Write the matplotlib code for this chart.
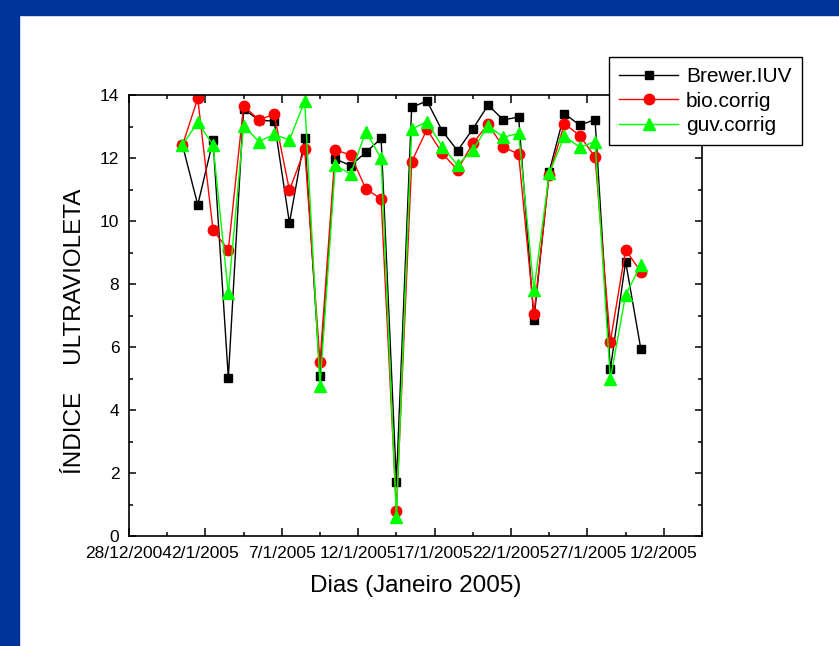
#!/usr/bin/env python3
"""UV index, Brewer vs corrected biometer / GUV, January 2005."""

from datetime import datetime, timedelta

import matplotlib
matplotlib.use("Agg")
import matplotlib.pyplot as plt
from matplotlib.patches import Rectangle
from matplotlib.ticker import MultipleLocator

plt.rcParams['font.family'] = ['Liberation Sans', 'DejaVu Sans']

# daily values, 31/12/2004 .. 30/1/2005 (measured around noon)
first_day = datetime(2004, 12, 31, 12)
brewer_iuv = [12.41, 10.51, 12.56, 5.02, 13.56, 13.20, 13.17, 9.94, 12.65, 5.08,
              11.97, 11.76, 12.18, 12.62, 1.70, 13.61, 13.81, 12.86, 12.23, 12.92,
              13.68, 13.21, 13.30, 6.86, 11.57, 13.41, 13.04, 13.22, 5.29, 8.71,
              5.93]
bio_corrig = [12.41, 13.89, 9.71, 9.08, 13.66, 13.21, 13.39, 10.98, 12.27, 5.53,
              12.25, 12.10, 11.02, 10.70, 0.80, 11.88, 12.91, 12.15, 11.62, 12.47,
              13.07, 12.35, 12.12, 7.05, 11.46, 13.09, 12.71, 12.03, 6.17, 9.08,
              8.39]
guv_corrig = [12.42, 13.13, 12.41, 7.70, 13.03, 12.52, 12.75, 12.57, 13.81, 4.76,
              11.78, 11.48, 12.84, 11.99, 0.59, 12.92, 13.15, 12.36, 11.78, 12.25,
              13.03, 12.66, 12.78, 7.81, 11.51, 12.70, 12.34, 12.52, 4.98, 7.65,
              8.60]
days = [first_day + timedelta(days=i) for i in range(len(brewer_iuv))]

tick_dates = [datetime(2004, 12, 28) + timedelta(days=5 * k) for k in range(8)]
tick_labels = ['28/12/2004', '2/1/2005', '7/1/2005', '12/1/2005',
               '17/1/2005', '22/1/2005', '27/1/2005', '1/2/2005']

fig = plt.figure(figsize=(8.39, 6.46), dpi=100)
W, H = 839, 646

# dark blue slide frame, left and top
blue = '#003399'
fig.patches.append(Rectangle((0, 0), 19 / W, 1, transform=fig.transFigure,
                             color=blue, zorder=0))
fig.patches.append(Rectangle((0, 1 - 15 / H), 1, 15 / H, transform=fig.transFigure,
                             color=blue, zorder=0))

ax = fig.add_axes([129 / W, 110 / H, (702 - 129) / W, (536 - 95) / H])

ax.plot(days, brewer_iuv, color='black', lw=1, marker='s', ms=6,
        mec='black', mfc='black', label='Brewer.IUV')
ax.plot(days, bio_corrig, color='red', lw=1, marker='o', ms=7.5,
        mec='red', mfc='red', label='bio.corrig')
ax.plot(days, guv_corrig, color='#00ff00', lw=1, marker='^', ms=8,
        mec='#00ff00', mfc='#00ff00', label='guv.corrig')

ax.set_xlim(datetime(2004, 12, 28), datetime(2005, 2, 3, 12))
ax.set_ylim(0, 14)
ax.set_xticks(tick_dates)
ax.set_xticklabels(tick_labels)
minor = [datetime(2004, 12, 30, 12) + timedelta(days=5 * k) for k in range(8)]
ax.set_xticks(minor, minor=True)
ax.yaxis.set_major_locator(MultipleLocator(2))
ax.yaxis.set_minor_locator(MultipleLocator(1))

ax.tick_params(which='both', direction='in', top=True, right=True,
               labelsize=12.5, width=1.1)
ax.tick_params(axis='x', which='major', length=6, pad=7)
ax.tick_params(axis='y', which='major', length=5, pad=7)
ax.tick_params(which='minor', length=3)
for s in ax.spines.values():
    s.set_linewidth(1.2)

ax.set_xlabel('Dias (Janeiro 2005)', fontsize=17.5, labelpad=10)
ax.set_ylabel('ÍNDICE    ULTRAVIOLETA', fontsize=17.5)
ax.yaxis.set_label_coords((75.5 - 129) / 573, (536 - 331.5) / 441)
ax.yaxis.label.set_va('center')

leg = ax.legend(loc='upper left', bbox_to_anchor=(609 / W, 1 - 57 / H),
                bbox_transform=fig.transFigure, borderaxespad=0,
                fancybox=False, framealpha=1, edgecolor='black',
                fontsize=15, handlelength=2.8, handletextpad=0.4,
                labelspacing=0.25, borderpad=0.5)
leg.get_frame().set_linewidth(1.0)

fig.savefig('out.png', dpi=100)
